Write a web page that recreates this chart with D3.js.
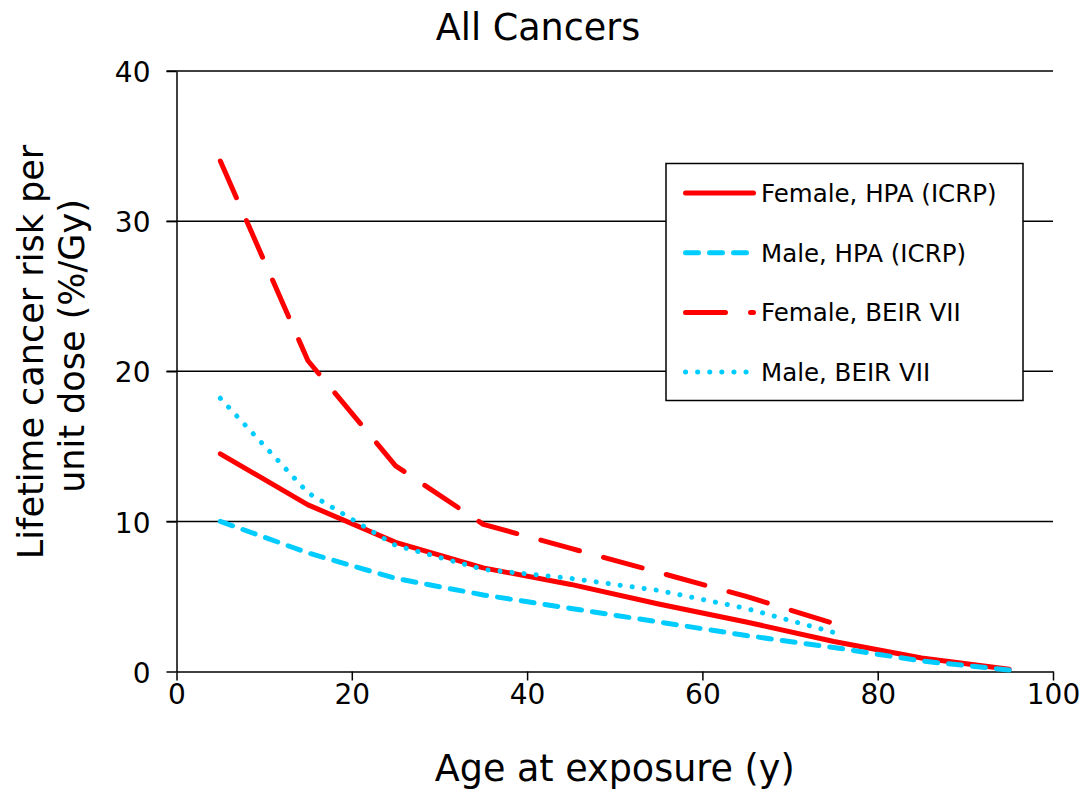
<!DOCTYPE html>
<html>
<head>
<meta charset="utf-8">
<script src="https://cdn.jsdelivr.net/npm/d3@7"></script>
<style>
  body { margin: 0; background: #fff; }
  svg { font-family: "DejaVu Sans", Verdana, sans-serif; }
</style>
</head>
<body>
<svg id="chart" width="1086" height="794"></svg>
<script>
// ages at exposure (y)
const agesHPA = [5, 15, 25, 35, 45, 55, 65, 75, 85, 95];
const agesBEIR = [5, 15, 25, 35, 45, 55, 65, 75];

// lifetime cancer risk per unit dose (%/Gy)
const femaleHPA = [14.5, 11.1, 8.6, 6.9, 5.8, 4.5, 3.3, 2.0, 0.9, 0.15];
const maleHPA = [10.0, 7.9, 6.2, 5.1, 4.2, 3.3, 2.4, 1.6, 0.7, 0.1];
const femaleBEIR = [34.0, 20.7, 13.7, 9.8, 8.2, 6.6, 5.0, 3.2];
const maleBEIR = [18.2, 11.9, 8.4, 6.8, 6.2, 5.4, 4.2, 2.6];

const xTicks = [0, 20, 40, 60, 80, 100];
const yTicks = [0, 10, 20, 30, 40];

const RED = '#ff0000';
const CYAN = '#00ccff';

const series = [
  {name: 'Female, HPA (ICRP)', ages: agesHPA, values: femaleHPA, color: RED, dash: null},
  {name: 'Male, HPA (ICRP)', ages: agesHPA, values: maleHPA, color: CYAN, dash: '13,11'},
  {name: 'Female, BEIR VII', ages: agesBEIR, values: femaleBEIR, color: RED, dash: '40,25'},
  {name: 'Male, BEIR VII', ages: agesBEIR, values: maleBEIR, color: CYAN, dash: '0.1,12'}
];

const svg = d3.select('#chart');

const x = d3.scaleLinear().domain([0, 100]).range([176.5, 1053]);
const y = d3.scaleLinear().domain([0, 40]).range([671.5, 71]);

// gridlines (they also make the outer tick on the left)
svg.append('g')
    .attr('class', 'grid')
    .selectAll('line')
    .data(yTicks.filter((d) => d > 0))
    .enter()
    .append('line')
    .attr('x1', x(0) - 10)
    .attr('x2', x(100))
    .attr('y1', (d) => y(d))
    .attr('y2', (d) => y(d))
    .attr('stroke', '#000')
    .attr('stroke-width', 1.5);

const yAxis = d3.axisLeft(y).tickValues(yTicks).tickSize(10).tickSizeOuter(0).tickPadding(16);
const yAxisSvg = svg.append('g')
    .attr('class', 'y-axis')
    .attr('transform', 'translate(' + x(0) + ',0)')
    .call(yAxis);

const xAxis = d3.axisBottom(x).tickValues(xTicks).tickSize(9).tickSizeOuter(0).tickPadding(4);
const xAxisSvg = svg.append('g')
    .attr('class', 'x-axis')
    .attr('transform', 'translate(0,' + y(0) + ')')
    .call(xAxis);

[yAxisSvg, xAxisSvg].forEach((g) => {
  g.selectAll('.domain').attr('stroke', '#000').attr('stroke-width', 1.5);
  g.selectAll('.tick line').attr('stroke', '#000').attr('stroke-width', 1.5);
  g.selectAll('.tick text')
      .attr('fill', '#000')
      .style('font-size', '28px')
      .style('font-family', '"DejaVu Sans", Verdana, sans-serif');
});
yAxisSvg.selectAll('.tick text').attr('dy', '0.38em');
xAxisSvg.selectAll('.tick text').attr('dy', '0.71em');

// lines
const line = d3.line()
    .x((d) => x(d[0]))
    .y((d) => y(d[1]));

series.forEach((s) => {
  const pts = s.ages.map((a, i) => [a, s.values[i]]);
  svg.append('path')
      .datum(pts)
      .attr('d', line)
      .attr('fill', 'none')
      .attr('stroke', s.color)
      .attr('stroke-width', 5)
      .attr('stroke-linecap', 'round')
      .attr('stroke-linejoin', 'round')
      .attr('stroke-dasharray', s.dash);
});

// legend
const legend = svg.append('g').attr('class', 'legend');
legend.append('rect')
    .attr('x', 666)
    .attr('y', 163.5)
    .attr('width', 357)
    .attr('height', 237)
    .attr('fill', '#fff')
    .attr('stroke', '#000')
    .attr('stroke-width', 1.5);

const rows = legend.selectAll('.row')
    .data(series)
    .enter()
    .append('g')
    .attr('class', 'row')
    .attr('transform', (d, i) => 'translate(0,' + (193 + i * 59.7) + ')');

rows.append('line')
    .attr('x1', 685.5)
    .attr('x2', 753.5)
    .attr('stroke', (d) => d.color)
    .attr('stroke-width', 5)
    .attr('stroke-linecap', 'round')
    .attr('stroke-dasharray', (d) => d.dash);

rows.append('text')
    .attr('x', 761)
    .attr('dy', '0.36em')
    .style('font-size', '24.5px')
    .text((d) => d.name);

// titles
svg.append('text')
    .attr('x', 538)
    .attr('y', 40)
    .attr('text-anchor', 'middle')
    .style('font-size', '36.5px')
    .text('All Cancers');

svg.append('text')
    .attr('x', x(50))
    .attr('y', 781)
    .attr('text-anchor', 'middle')
    .style('font-size', '36.5px')
    .text('Age at exposure (y)');

svg.append('text')
    .attr('transform', 'translate(43,352) rotate(-90)')
    .attr('text-anchor', 'middle')
    .style('font-size', '35px')
    .text('Lifetime cancer risk per');

svg.append('text')
    .attr('transform', 'translate(84,346) rotate(-90)')
    .attr('text-anchor', 'middle')
    .style('font-size', '35px')
    .text('unit dose (%/Gy)');
</script>
</body>
</html>
